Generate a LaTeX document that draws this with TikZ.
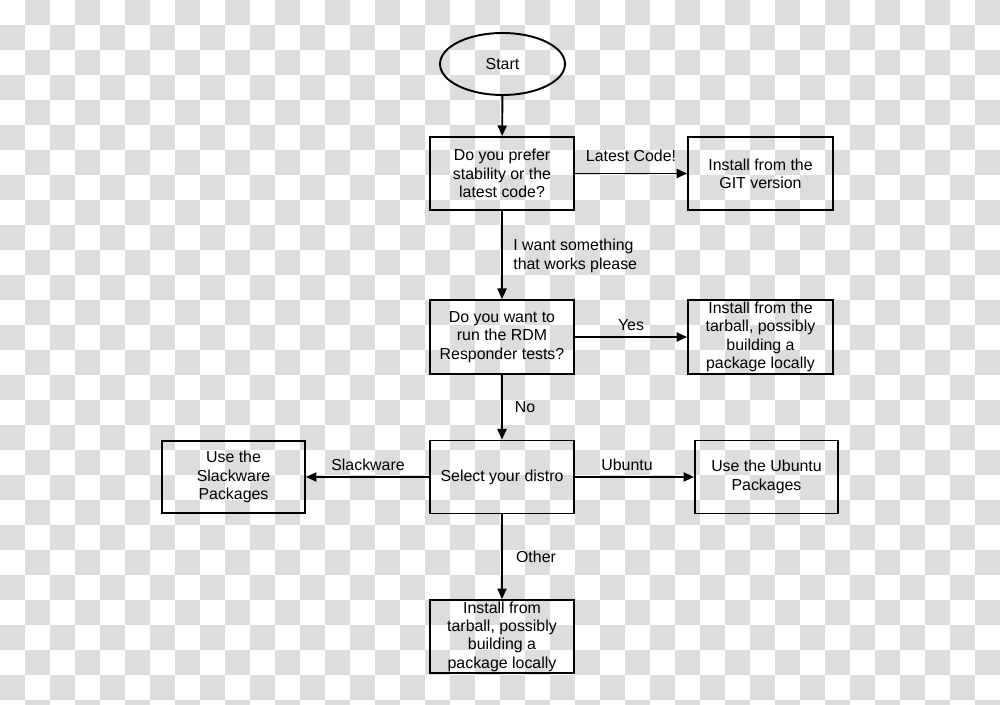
\documentclass[tikz,border=0pt]{standalone}
\usepackage{fontspec}
\setmainfont{Liberation Sans}
\usetikzlibrary{arrows.meta,shapes.geometric}
\definecolor{checkgray}{RGB}{221,221,221}
\tikzset{
  flowbox/.style={draw=black, line width=1.1pt, rectangle, inner sep=0pt, align=center,
    font=\fontsize{9.05}{10.4}\selectfont},
  startshape/.style={draw=black, line width=1.1pt, ellipse, inner sep=0pt,
    minimum width=2.5cm, minimum height=1.24cm, font=\fontsize{9.05}{10.4}\selectfont},
  lbl/.style={inner sep=0pt, font=\fontsize{9.05}{10.4}\selectfont},
  flow/.style={line width=1.1pt, -{Triangle[length=6pt,width=5.2pt]}},
}
\begin{document}
\begin{tikzpicture}[x=0.02cm,y=-0.02cm]
\useasboundingbox (0,0) rectangle (1000,705);
\fill[white] (0,0) rectangle (1000,705);
\foreach \i in {0,...,39}{
  \foreach \j in {0,...,28}{
    \pgfmathtruncatemacro\parityv{mod(\i+\j,2)}
    \ifnum\parityv=1
      \fill[checkgray] (\i*25,\j*25) rectangle ++(25,25);
    \fi
  }
}
\node[startshape] (start) at (502.5,64) {Start};
\node[flowbox, minimum width=2.88cm, minimum height=1.46cm] (q1) at (502,173.5) {Do you prefer\\stability or the\\latest code?};
\node[flowbox, minimum width=2.9cm, minimum height=1.46cm] (git) at (760.5,173.5) {Install from the\\GIT version};
\node[flowbox, minimum width=2.88cm, minimum height=1.48cm] (q2) at (502,337) {Do you want to\\run the RDM\\Responder tests?};
\node[flowbox, minimum width=2.9cm, minimum height=1.48cm] (tar1) at (760.5,337) {Install from the\\tarball, possibly\\building a\\package locally};
\node[flowbox, minimum width=2.88cm, minimum height=1.46cm] (q3) at (502,477) {Select your distro};
\node[flowbox, minimum width=2.86cm, minimum height=1.44cm] (slack) at (233.5,477) {Use the\\Slackware\\Packages};
\node[flowbox, minimum width=2.86cm, minimum height=1.46cm] (ubuntu) at (766.5,477) {Use the Ubuntu\\Packages};
\node[flowbox, minimum width=2.88cm, minimum height=1.46cm] (tar2) at (502,636.5) {Install from\\tarball, possibly\\building a\\package locally};

\draw[flow] (start) -- (q1);
\draw[flow] (q1) -- (git);
\draw[flow] (q1) -- (q2);
\draw[flow] (q2) -- (tar1);
\draw[flow] (q2) -- (q3);
\draw[flow] (q3) -- (slack);
\draw[flow] (q3) -- (ubuntu);
\draw[flow] (q3) -- (tar2);

\node[lbl] (l1) at (631,156) {Latest Code!};
\node[lbl, anchor=west, align=left] (l2) at (513,256) {I want something\\that works please};
\node[lbl] (l3) at (631,325) {Yes};
\node[lbl] (l4) at (525,407) {No};
\node[lbl] (l5) at (368,465) {Slackware};
\node[lbl] (l6) at (627,465) {Ubuntu};
\node[lbl] (l7) at (536,557) {Other};
\end{tikzpicture}
\end{document}
